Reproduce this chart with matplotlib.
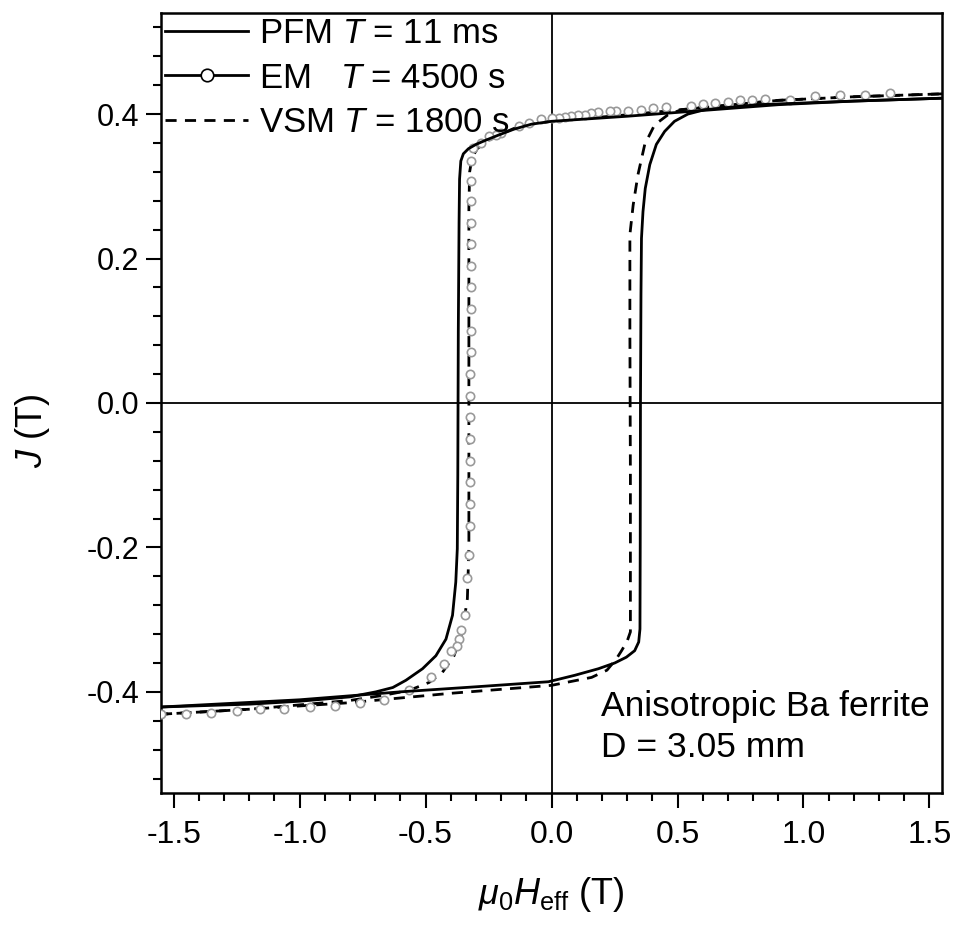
import matplotlib
matplotlib.use('Agg')
import matplotlib.pyplot as plt
from matplotlib.lines import Line2D
from matplotlib.ticker import MultipleLocator

plt.rcParams['font.family'] = 'Liberation Sans'
plt.rcParams['mathtext.fontset'] = 'custom'
plt.rcParams['mathtext.rm'] = 'Liberation Sans'
plt.rcParams['mathtext.it'] = 'Liberation Sans:italic'
plt.rcParams['axes.unicode_minus'] = False

# PFM, T = 11 ms (solid) - field going down, then going up
pfm_down_h = [1.55, 1.2, 0.9, 0.6, 0.3, 0.0, -0.08, -0.15, -0.21, -0.26, -0.30, -0.33, -0.35, -0.36,
              -0.365, -0.367, -0.37, -0.372, -0.374, -0.38, -0.393, -0.419, -0.459, -0.512, -0.578,
              -0.63, -0.697, -0.801, -1.0, -1.196, -1.55]
pfm_down_j = [0.422, 0.418, 0.413, 0.405, 0.397, 0.390, 0.386, 0.379, 0.371, 0.364, 0.358, 0.352, 0.345,
              0.335, 0.31, 0.25, 0.10, -0.10, -0.202, -0.248, -0.294, -0.327, -0.350, -0.368, -0.384,
              -0.394, -0.400, -0.407, -0.413, -0.417, -0.421]
pfm_up_h = [-1.55, -1.0, -0.6, -0.3, -0.012, 0.093, 0.186, 0.251, 0.297, 0.330, 0.346, 0.351, 0.352,
            0.353, 0.355, 0.357, 0.363, 0.372, 0.390, 0.416, 0.449, 0.488, 0.541, 0.607, 0.817, 1.2, 1.55]
pfm_up_j = [-0.421, -0.411, -0.400, -0.393, -0.386, -0.377, -0.368, -0.360, -0.352, -0.343, -0.331,
            -0.313, -0.2, 0.0, 0.15, 0.228, 0.265, 0.297, 0.330, 0.358, 0.376, 0.390, 0.400, 0.406, 0.413,
            0.418, 0.422]

# VSM, T = 1800 s (dashed)
vsm_down_h = [1.55, 1.2, 0.9, 0.6, 0.3, 0.0, -0.08, -0.15, -0.21, -0.26, -0.295, -0.315, -0.325,
              -0.328, -0.328, -0.328, -0.328, -0.334, -0.354, -0.387, -0.433, -0.486, -0.565, -0.670,
              -0.801, -1.196, -1.55]
vsm_down_j = [0.428, 0.424, 0.419, 0.409, 0.399, 0.390, 0.386, 0.380, 0.371, 0.362, 0.352, 0.340, 0.32,
              0.27, 0.10, -0.10, -0.202, -0.271, -0.317, -0.350, -0.373, -0.387, -0.398, -0.405, -0.412,
              -0.424, -0.431]
vsm_up_h = [-1.55, -1.196, -0.8, -0.4, 0.0, 0.159, 0.22, 0.258, 0.278, 0.300, 0.313, 0.313, 0.311,
            0.311, 0.324, 0.343, 0.370, 0.409, 0.462, 0.515, 0.6, 0.9, 1.2, 1.55]
vsm_up_j = [-0.431, -0.424, -0.415, -0.402, -0.391, -0.380, -0.370, -0.354, -0.343, -0.330, -0.317,
            -0.10, 0.10, 0.233, 0.274, 0.316, 0.358, 0.385, 0.399, 0.406, 0.409, 0.419, 0.424, 0.428]

# EM, T = 4500 s (open circles, descending branch only)
em_h = [1.343, 1.243, 1.145, 1.046, 0.947, 0.849, 0.797, 0.75, 0.699, 0.65, 0.60, 0.553, 0.454, 0.403,
        0.355, 0.304, 0.257, 0.233, 0.186, 0.158, 0.134, 0.107, 0.079, 0.055, 0.028, 0.0, -0.04, -0.09,
        -0.13, -0.20, -0.22, -0.25, -0.28, -0.31, -0.318, -0.32, -0.318, -0.318, -0.32, -0.32, -0.32,
        -0.32, -0.321, -0.321, -0.322, -0.322, -0.322, -0.322, -0.323, -0.323, -0.324, -0.324, -0.326,
        -0.334, -0.345, -0.360, -0.369, -0.377, -0.40, -0.426, -0.48, -0.565, -0.663, -0.762, -0.86,
        -0.96, -1.06, -1.157, -1.25, -1.35, -1.45, -1.55]
em_j = [0.429, 0.427, 0.426, 0.425, 0.42, 0.421, 0.42, 0.42, 0.417, 0.415, 0.414, 0.411, 0.41, 0.408,
        0.406, 0.404, 0.404, 0.404, 0.403, 0.402, 0.399, 0.399, 0.397, 0.396, 0.395, 0.395, 0.393, 0.388,
        0.383, 0.374, 0.371, 0.369, 0.36, 0.353, 0.335, 0.307, 0.28, 0.249, 0.22, 0.19, 0.16, 0.13,
        0.10, 0.07, 0.04, 0.01, -0.02, -0.05, -0.08, -0.11, -0.14, -0.17, -0.211, -0.243, -0.294,
        -0.315, -0.327, -0.336, -0.343, -0.362, -0.380, -0.398, -0.411, -0.415, -0.42, -0.421,
        -0.424, -0.424, -0.427, -0.429, -0.43, -0.431]

labels = ['PFM $T$ = 11 ms', 'EM   $T$ = 4500 s', 'VSM $T$ = 1800 s']


def main():
    fig = plt.figure(figsize=(9.71, 9.27), dpi=100)
    ax = fig.add_axes([0.1658, 0.1446, 0.8044, 0.8414])

    ax.axhline(0, color='black', lw=1.3, zorder=1)
    ax.axvline(0, color='black', lw=1.3, zorder=1)

    ax.plot(vsm_down_h, vsm_down_j, color='black', lw=2.0, dashes=(4, 3), zorder=2)
    ax.plot(vsm_up_h, vsm_up_j, color='black', lw=2.0, dashes=(4, 3), zorder=2)
    ax.plot(em_h, em_j, ls='none', marker='o', ms=6, mfc='white', mec='0.6', mew=1.2, zorder=3)
    ax.plot(pfm_down_h, pfm_down_j, color='black', lw=2.0, zorder=4)
    ax.plot(pfm_up_h, pfm_up_j, color='black', lw=2.0, zorder=4)

    handles = [Line2D([], [], color='black', lw=2.0),
               Line2D([], [], color='black', lw=2.0, marker='o', ms=9, mfc='white', mec='black', mew=1.2),
               Line2D([], [], color='black', lw=2.0, dashes=(4, 3))]
    ax.legend(handles, labels, loc='upper left', frameon=False, fontsize=25, handlelength=2.4,
              handletextpad=0.3, labelspacing=0.33, borderaxespad=0.0, borderpad=0.12)

    ax.text(0.195, -0.433, 'Anisotropic Ba ferrite', fontsize=25.5, ha='left', va='baseline')
    ax.text(0.195, -0.490, 'D = 3.05 mm', fontsize=25.5, ha='left', va='baseline')

    ax.set_xlim(-1.55, 1.55)
    ax.set_ylim(-0.54, 0.54)
    ax.xaxis.set_major_locator(MultipleLocator(0.5))
    ax.xaxis.set_minor_locator(MultipleLocator(0.1))
    ax.yaxis.set_major_locator(MultipleLocator(0.2))
    ax.yaxis.set_minor_locator(MultipleLocator(0.04))
    ax.tick_params(which='major', direction='out', length=10.5, width=1.5, labelsize=22)
    ax.tick_params(which='minor', direction='out', length=5.8, width=1.5)
    ax.tick_params(axis='x', which='major', labelsize=23, pad=9)
    ax.tick_params(axis='y', which='major', pad=5)
    for s in ax.spines.values():
        s.set_linewidth(1.8)

    ax.set_xlabel(r'$\mu_0H_{\rm eff}$ (T)', fontsize=26, labelpad=18)
    ax.set_ylabel(r'$J$ (T)', fontsize=26)
    ax.yaxis.set_label_coords(-0.14, 0.464)

    fig.savefig('out.png', dpi=100)


if __name__ == "__main__":
    main()
